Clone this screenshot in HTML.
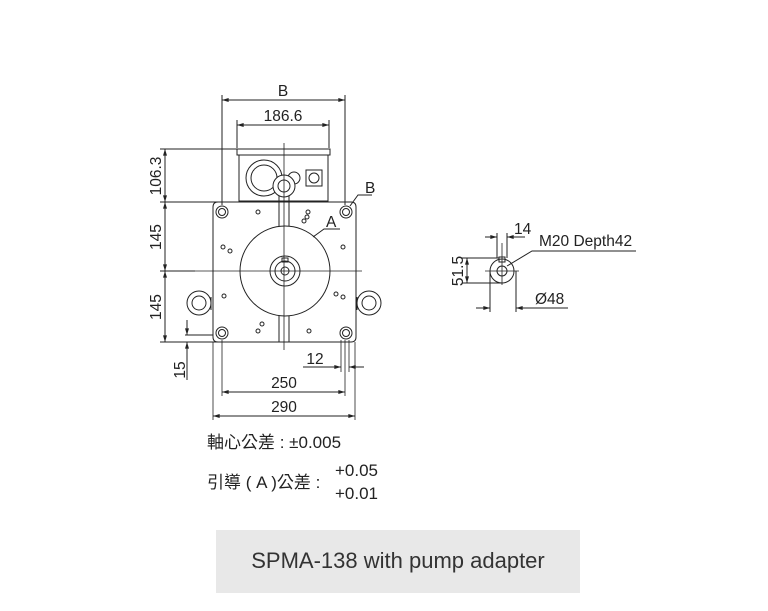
<!DOCTYPE html>
<html><head><meta charset="utf-8"><style>
html,body{margin:0;padding:0;background:#fff;width:768px;height:611px;overflow:hidden}
svg{display:block}
text{font-family:"Liberation Sans","Noto Sans CJK TC",sans-serif;fill:#222}
</style></head><body>
<svg width="768" height="611" viewBox="0 0 768 611">
<defs>
<marker id="a" viewBox="0 0 10 6" refX="10" refY="3" markerWidth="7" markerHeight="4" orient="auto-start-reverse"><path d="M0,0L10,3L0,6z" fill="#222"/></marker>
</defs>
<g stroke="#222" fill="none" stroke-width="1">
<rect x="237" y="149" width="93" height="6" fill="#fff"/>
<rect x="239" y="155" width="89" height="46" fill="#fff"/>
<circle cx="264" cy="178" r="18"/><circle cx="264" cy="178" r="13"/>
<circle cx="294" cy="178" r="6"/>
<rect x="306" y="170" width="16" height="16"/><circle cx="314" cy="178" r="5"/>
<path d="M218,202 H351 Q356,202 356,207 V337 Q356,342 351,342 H218 Q213,342 213,337 V207 Q213,202 218,202 Z" fill="#fff"/>
<circle cx="199" cy="303" r="12" fill="#fff"/><circle cx="199" cy="303" r="7"/>
<circle cx="369" cy="303" r="12" fill="#fff"/><circle cx="369" cy="303" r="7"/>
<path d="M211,297V310M357,297V310"/>
<path d="M279,195V227M289,195V227M279,315V342M289,315V342"/>
<circle cx="284" cy="186" r="11" fill="#fff"/><circle cx="284" cy="186" r="6"/>
<circle cx="285" cy="271" r="45" fill="#fff"/>
<circle cx="285" cy="271" r="15"/><circle cx="285" cy="271" r="10"/><circle cx="285" cy="271" r="4"/>
<rect x="282" y="258" width="6" height="4"/>
<circle cx="222" cy="212" r="6"/><circle cx="222" cy="212" r="3.5"/>
<circle cx="346" cy="212" r="6"/><circle cx="346" cy="212" r="3.5"/>
<circle cx="222" cy="333" r="6"/><circle cx="222" cy="333" r="3.5"/>
<circle cx="346" cy="333" r="6"/><circle cx="346" cy="333" r="3.5"/>
<circle cx="258" cy="212" r="2"/><circle cx="308" cy="212" r="2"/><circle cx="307" cy="217" r="2"/><circle cx="304" cy="221" r="2"/>
<circle cx="223" cy="247" r="2"/><circle cx="230" cy="251" r="2"/><circle cx="343" cy="247" r="2"/>
<circle cx="224" cy="296" r="2"/><circle cx="336" cy="294" r="2"/><circle cx="343" cy="297" r="2"/>
<circle cx="262" cy="324" r="2"/><circle cx="258" cy="331" r="2"/><circle cx="309" cy="331" r="2"/>
<path d="M284,143V350M192,271H362" stroke-width="0.8"/>
<path d="M222,95V205M345,95V205M237,120V148M329,120V148"/>
<path d="M222,100H345" marker-start="url(#a)" marker-end="url(#a)"/>
<path d="M237,125H329" marker-start="url(#a)" marker-end="url(#a)"/>
<path d="M160,149H237M160,202H220M160,271H195M160,342H222"/>
<path d="M165,149V202" marker-start="url(#a)" marker-end="url(#a)"/>
<path d="M165,202V271" marker-start="url(#a)" marker-end="url(#a)"/>
<path d="M165,271V342" marker-start="url(#a)" marker-end="url(#a)"/>
<path d="M185,335H213"/>
<path d="M187,320V335" marker-end="url(#a)"/><path d="M187,380V342" marker-end="url(#a)"/>
<path d="M213,342V420M355,342V420M222,340V396M345,340V396M341,340V372M349,340V372" stroke-width="0.8"/>
<path d="M222,392H345" marker-start="url(#a)" marker-end="url(#a)"/>
<path d="M213,416H355" marker-start="url(#a)" marker-end="url(#a)"/>
<path d="M303,367H341" marker-end="url(#a)"/><path d="M364,367H349" marker-end="url(#a)"/>
<path d="M313,237L324,229H340"/>
<path d="M350,206L358,195H372"/>
<circle cx="502" cy="271" r="12" fill="#fff"/><circle cx="502" cy="271" r="5"/>
<rect x="499" y="257" width="6" height="5"/>
<path d="M502,243V285M485,271H519" stroke-width="0.8"/>
<path d="M462,258H499M462,283H502"/>
<path d="M467,258V283" marker-start="url(#a)" marker-end="url(#a)"/>
<path d="M497,233V258M507,233V258"/>
<path d="M485,237H497" marker-end="url(#a)"/><path d="M525,237H507" marker-end="url(#a)"/>
<path d="M490,271V312M516,271V312"/>
<path d="M476,308H490" marker-end="url(#a)"/><path d="M568,308H516" marker-end="url(#a)"/>
<path d="M507,266L532,251H636"/>
</g>
<g font-size="15.5">
<text x="283" y="96" text-anchor="middle">B</text>
<text x="283" y="121" text-anchor="middle">186.6</text>
<text x="365" y="193">B</text>
<text x="326" y="227">A</text>
<text transform="translate(161,176) rotate(-90)" text-anchor="middle">106.3</text>
<text transform="translate(161,237) rotate(-90)" text-anchor="middle">145</text>
<text transform="translate(161,307) rotate(-90)" text-anchor="middle">145</text>
<text transform="translate(185,370) rotate(-90)" text-anchor="middle">15</text>
<text x="315" y="364" text-anchor="middle">12</text>
<text x="284" y="388" text-anchor="middle">250</text>
<text x="284" y="412" text-anchor="middle">290</text>
<text transform="translate(463,271) rotate(-90)" text-anchor="middle">51.5</text>
<text x="514" y="234">14</text>
<text x="539" y="246">M20 Depth42</text>
<text x="535" y="304">Ø48</text>
</g>
<g font-size="17">
<text x="207" y="448">軸心公差 : ±0.005</text>
<text x="207" y="488">引導 ( A )公差 :</text>
<text x="335" y="476">+0.05</text>
<text x="335" y="499">+0.01</text>
</g>
<rect x="216" y="530" width="364" height="63" fill="#e8e8e8"/>
<text x="398" y="568" text-anchor="middle" font-size="22" style="fill:#333">SPMA-138 with pump adapter</text>
</svg>
</body></html>
